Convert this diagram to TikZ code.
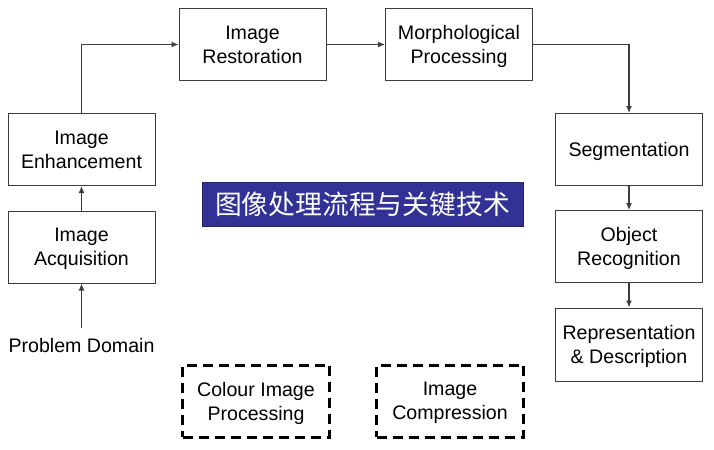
\documentclass[tikz,border=0pt]{standalone}
\usepackage{fontspec}
\setmainfont{Liberation Sans}
\newfontfamily\cjk{Noto Sans CJK SC}
\usepackage{tikz}
\usetikzlibrary{arrows.meta}
\definecolor{titleblue}{RGB}{50,50,150}
\definecolor{linegray}{RGB}{60,60,60}

\begin{document}
\begin{tikzpicture}[x=0.5pt,y=-0.5pt,
    stagebox/.style={draw=linegray, line width=0.5pt, minimum width=73.5pt, minimum height=36pt,
        align=center, inner sep=0pt, text depth=0pt, font=\fontsize{9.8pt}{12pt}\selectfont},
    extrabox/.style={stagebox, draw=black, line width=1.5pt, dash pattern=on 5pt off 3pt},
    flow/.style={draw=linegray, line width=0.6pt, -{Latex[length=3.5pt,width=3pt]}}]
    \useasboundingbox (0,0) rectangle (714,450);

    \node[stagebox] (enh) at (81.5,149.5) {Image\\Enhancement};
    \node[stagebox] (acq) at (81.5,247) {Image\\Acquisition};
    \node[stagebox] (rest) at (252.5,44.5) {Image\\Restoration};
    \node[stagebox] (morph) at (459,44.5) {Morphological\\Processing};
    \node[stagebox] (seg) at (629,149.5) {Segmentation};
    \node[stagebox] (obj) at (629,246.5) {Object\\Recognition};
    \node[stagebox, minimum height=36.5pt] (rep) at (629,344.5) {Representation\\\& Description};

    \node[font=\fontsize{9.8pt}{12pt}\selectfont] (dom) at (81.5,345) {Problem Domain};

    \node[extrabox] (colour) at (256,401) {Colour Image\\Processing};
    \node[extrabox] (comp) at (450,401) {Image\\Compression};

    \node[fill=titleblue, draw=titleblue!70!black, line width=0.5pt, text=white,
        minimum width=160.5pt, minimum height=22pt, inner sep=0pt,
        font=\cjk\fontsize{13.4pt}{16pt}\selectfont] (title) at (362.5,204) {图像处理流程与关键技术};

    \draw[flow] (dom.north) ++(0,-3) -- (acq.south);
    \draw[flow] (acq.north) -- (enh.south);
    \draw[flow] (enh.north) |- (rest.west);
    \draw[flow] (rest.east) -- (morph.west);
    \draw[flow] (morph.east) -| (seg.north);
    \draw[flow] (seg.south) -- (obj.north);
    \draw[flow] (obj.south) -- (rep.north);
\end{tikzpicture}
\end{document}
